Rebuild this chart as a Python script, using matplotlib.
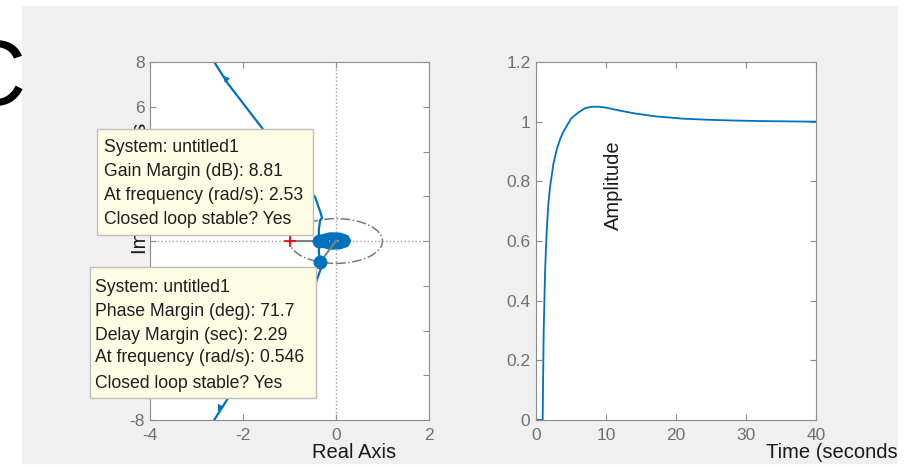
import numpy as np
import matplotlib.pyplot as plt
from matplotlib.patches import Rectangle, Circle

plt.rcParams['font.family'] = ['Liberation Sans', 'DejaVu Sans']
plt.rcParams['axes.unicode_minus'] = False

W, H = 907, 467
BLUE = '#0072BD'

# nyquist curve, positive frequencies; negative freqs are the mirror
nyq_re = [-2.62, -2.32, -1.59, -1.05, -0.72, -0.45, -0.33, -0.30, -0.34, -0.37, -0.362,
          -0.32, -0.14, 0.08, 0.24, 0.30, 0.25, 0.08, -0.12, -0.30, -0.36,
          -0.30, -0.10, 0.08, 0.21, 0.26, 0.20, 0.05, -0.12, -0.26, -0.31,
          -0.25, -0.08, 0.06, 0.17, 0.21, 0.15, 0.02, -0.12, -0.22, -0.25,
          -0.20, -0.06, 0.06, 0.14, 0.16, 0.11, 0.0, -0.11, -0.17, -0.19,
          -0.14, -0.04, 0.05, 0.10, 0.11, 0.06, -0.03, -0.10, -0.12, -0.09, -0.03, 0.0]
nyq_im = [-8.0, -7.02, -5.05, -3.55, -2.6, -1.97, -1.25, -1.03, -0.94, -0.5, 0.0,
          0.24, 0.34, 0.33, 0.22, 0.0, -0.2, -0.31, -0.31, -0.2, 0.0,
          0.21, 0.29, 0.28, 0.18, 0.0, -0.17, -0.26, -0.26, -0.16, 0.0,
          0.17, 0.24, 0.23, 0.14, 0.0, -0.13, -0.21, -0.21, -0.12, 0.0,
          0.13, 0.19, 0.18, 0.11, 0.0, -0.11, -0.16, -0.15, -0.09, 0.0,
          0.1, 0.13, 0.12, 0.07, 0.0, -0.07, -0.1, -0.09, -0.05, 0.0, 0.04, 0.0]
gm_pt = (-0.362, 0.0)
pm_pt = (-0.34, -0.94)

# step response
t = [0, 0.95, 1.1, 1.3, 1.5, 1.75, 2.0, 2.5, 3.0, 3.5, 4.0, 5.0, 6.0, 7.0, 8.0, 9.0,
     10, 12, 14, 17, 21, 25, 28, 32, 36, 40]
amp = [0, 0, 0.3, 0.5, 0.62, 0.72, 0.78, 0.86, 0.91, 0.945, 0.97, 1.01, 1.03, 1.045,
       1.05, 1.05, 1.047, 1.037, 1.028, 1.018, 1.01, 1.006, 1.004, 1.002, 1.001, 1.0]

box1_lines = ['System: untitled1', 'Gain Margin (dB): 8.81',
              'At frequency (rad/s): 2.53', 'Closed loop stable? Yes']
box2_lines = ['System: untitled1', 'Phase Margin (deg): 71.7', 'Delay Margin (sec): 2.29',
              'At frequency (rad/s): 0.546', 'Closed loop stable? Yes']


def fx(x):
    return x / W


def fy(y):
    return 1 - y / H


fig = plt.figure(figsize=(W / 100, H / 100), dpi=100)
fig.patch.set_facecolor('white')
fig.add_artist(Rectangle((fx(22), fy(463)), (898 - 22) / W, (463 - 6) / H,
                         transform=fig.transFigure, color='#f0f0f0', zorder=-1))

ax1 = fig.add_axes([fx(150), fy(420), 279 / W, 358 / H])
ax2 = fig.add_axes([fx(536), fy(420), 280 / W, 358 / H])

for ax in (ax1, ax2):
    ax.set_facecolor('white')
    for s in ax.spines.values():
        s.set_color('#8c8c8c')
    ax.tick_params(direction='in', length=4, top=True, right=True, color='#8c8c8c',
                   labelcolor='#707070', labelsize=12.5)
    ax.tick_params(axis='x', pad=6)
    ax.tick_params(axis='y', pad=4)

# nyquist
ax1.axhline(0, ls=':', color='#a0a0a0', lw=1)
ax1.axvline(0, ls=':', color='#a0a0a0', lw=1)
ax1.add_patch(Circle((0, 0), 1, fill=False, ls='-.', color='#7a7a7a', lw=1.1))
ax1.plot(nyq_re, nyq_im, color=BLUE, lw=1.6)
ax1.plot(nyq_re, [-v for v in nyq_im], color=BLUE, lw=1.6)
ax1.plot([-1, gm_pt[0]], [0, gm_pt[1]], color='#808080', lw=1.5)
ax1.plot([0, pm_pt[0]], [0, pm_pt[1]], color='#808080', lw=1.5)
ax1.plot(-1, 0, '+', color='red', ms=8, mew=1.2)
ax1.plot(*gm_pt, 'o', color=BLUE, ms=9)
ax1.plot(*pm_pt, 'o', color=BLUE, ms=9)
ax1.annotate('', xy=(-2.46, 7.5), xytext=(-2.38, 7.28),
             arrowprops=dict(arrowstyle='-|>', color=BLUE, lw=0, mutation_scale=12))
ax1.annotate('', xy=(-2.57, -7.72), xytext=(-2.5, -7.45),
             arrowprops=dict(arrowstyle='-|>', color=BLUE, lw=0, mutation_scale=12))
ax1.set_xlim(-4, 2)
ax1.set_ylim(-8, 8)
ax1.set_xticks([-4, -2, 0, 2])
ax1.set_yticks(range(-8, 9, 2))
ax1.set_yticklabels(['-8', '-6', '-4', '-2', '', '2', '4', '6', '8'])

# step
ax2.plot(t, amp, color=BLUE, lw=1.3)
ax2.set_xlim(0, 40)
ax2.set_ylim(0, 1.2)
ax2.set_xticks([0, 10, 20, 30, 40])
ax2.set_yticks([0, 0.2, 0.4, 0.6, 0.8, 1.0, 1.2])
ax2.set_yticklabels(['0', '0.2', '0.4', '0.6', '0.8', '1', '1.2'])

# labels
fig.text(fx(140), fy(188), 'Imaginary Axis', rotation=90, ha='center', va='center',
         fontsize=14.5, color='#1a1a1a', zorder=2)
fig.text(fx(354), fy(452), 'Real Axis', ha='center', va='center', fontsize=14.5,
         color='#1a1a1a', zorder=2)
fig.text(fx(613), fy(185), 'Amplitude', rotation=90, ha='center', va='center',
         fontsize=14.5, color='#1a1a1a', zorder=2)
fig.text(fx(766), fy(453), 'Time (seconds)', ha='left', va='center', fontsize=14.5,
         color='#1a1a1a', zorder=2)
fig.text(fx(25), fy(105), 'C', ha='right', va='baseline', fontsize=66, color='black',
         fontweight='light', zorder=2)

# data tips
for (x0, y0, x1, y1), lines, tx, ys in [
        ((97, 129, 313, 235), box1_lines, 104, [148, 172, 196, 220]),
        ((90, 267, 316, 398), box2_lines, 95, [288, 312, 335, 358, 383])]:
    fig.add_artist(Rectangle((fx(x0), fy(y1)), (x1 - x0) / W, (y1 - y0) / H,
                             transform=fig.transFigure, facecolor='#fdfde6',
                             edgecolor='#bdbdbd', lw=1, zorder=5))
    for s, yy in zip(lines, ys):
        fig.text(fx(tx), fy(yy), s, ha='left', va='center', fontsize=12.7,
                 color='#1e1e1e', zorder=6)

# right edge strip clips the time label
fig.add_artist(Rectangle((fx(898), 0), 9 / W, 1, transform=fig.transFigure,
                         color='white', zorder=10))

fig.savefig('out.png', dpi=100)
